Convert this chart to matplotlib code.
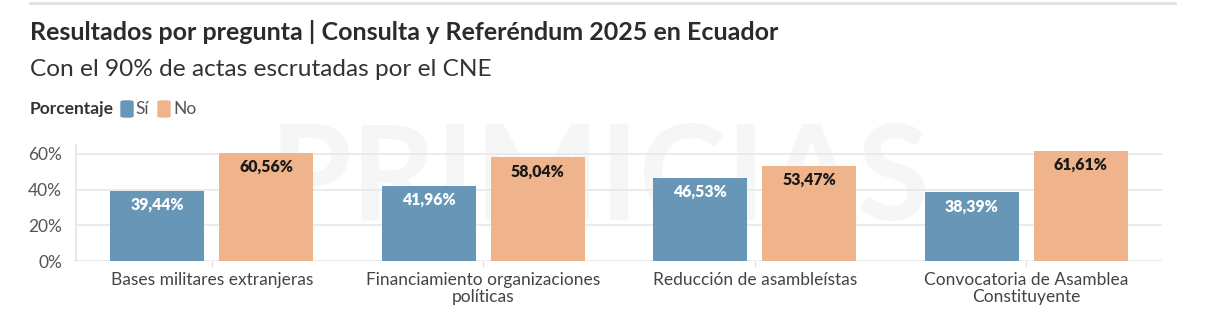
import matplotlib
matplotlib.use("Agg")
import matplotlib.pyplot as plt
import numpy as np
from matplotlib.patches import FancyBboxPatch

categories = ["Bases militares extranjeras", "Financiamiento organizaciones\npolíticas",
              "Reducción de asambleístas", "Convocatoria de Asamblea\nConstituyente"]
si_values = [39.44, 41.96, 46.53, 38.39]
no_values = [60.56, 58.04, 53.47, 61.61]
si_labels = ["39,44%", "41,96%", "46,53%", "38,39%"]
no_labels = ["60,56%", "58,04%", "53,47%", "61,61%"]
yticks = [0, 20, 40, 60]
ytick_labels = ["0%", "20%", "40%", "60%"]

BLUE = "#6796b7"
ORANGE = "#efb48b"
FONT = "Lato"

W, H = 1212, 333
fig = plt.figure(figsize=(W / 100, H / 100), dpi=100)
fig.patch.set_facecolor("white")

def fx(px): return px / W
def fy(py): return 1 - py / H

ax = fig.add_axes([fx(76), fy(261), fx(1162) - fx(76), fy(145) - fy(261)])
ax.set_xlim(-0.5, 3.5)
ax.set_ylim(0, 65)

# watermark behind bars
ax.text(fx(600), fy(182), "PRIMICIAS", transform=fig.transFigure, ha="center", va="center",
        fontsize=95, fontweight="bold", family=FONT, color="#f6f6f6", zorder=1)

x = np.arange(len(categories))
bw = 0.346
off = 0.2
ax.bar(x - off, si_values, bw, color=BLUE, zorder=3)
ax.bar(x + off, no_values, bw, color=ORANGE, zorder=3)

for xi, v, lab in zip(x, si_values, si_labels):
    ax.annotate(lab, (xi - off, v), xytext=(0, -10), textcoords="offset points",
                ha="center", va="center", color="white", fontsize=11.4,
                fontweight="heavy", family=FONT, zorder=4)
for xi, v, lab in zip(x, no_values, no_labels):
    ax.annotate(lab, (xi + off, v), xytext=(0, -10), textcoords="offset points",
                ha="center", va="center", color="#1a1a1a", fontsize=11.4,
                fontweight="heavy", family=FONT, zorder=4)

ax.set_yticks(yticks)
ax.set_yticklabels(ytick_labels, family=FONT, fontsize=12.5, color="#555555")
ax.set_xticks(x)
ax.set_xticklabels(categories, family=FONT, fontsize=12.5, color="#444444",
                   linespacing=1.1)
ax.tick_params(axis="y", length=0, pad=10)
ax.tick_params(axis="x", length=4, color="#dddddd", pad=4)
ax.grid(axis="y", color="#e8e8e8", linewidth=1.2, zorder=0)
for s in ["top", "right", "bottom"]:
    ax.spines[s].set_visible(False)
ax.spines["left"].set_color("#e4e4e4")
ax.spines["left"].set_linewidth(1.2)

# top separator
fig.add_artist(plt.Line2D([fx(30), fx(1175)], [fy(3), fy(3)], color="#e0e0e0", linewidth=2))

fig.text(fx(30), fy(32), "Resultados por pregunta | Consulta y Referéndum 2025 en Ecuador",
         ha="left", va="center", fontsize=18.0, fontweight="bold", family=FONT, color="#2b2b2b")
fig.text(fx(30), fy(70), "Con el 90% de actas escrutadas por el CNE",
         ha="left", va="center", fontsize=17.6, family=FONT, color="#333333")

fig.text(fx(30), fy(109), "Porcentaje", ha="left", va="center", fontsize=12.5,
         fontweight="bold", family=FONT, color="#333333")
fig.add_artist(FancyBboxPatch((fx(121), fy(117)), fx(12), fy(101) - fy(117),
                              boxstyle="round,pad=0,rounding_size=0.003",
                              transform=fig.transFigure, color=BLUE))
fig.text(fx(135), fy(109), "Sí", ha="left", va="center", fontsize=12.5, family=FONT, color="#555555")
fig.add_artist(FancyBboxPatch((fx(158), fy(117)), fx(12), fy(101) - fy(117),
                              boxstyle="round,pad=0,rounding_size=0.003",
                              transform=fig.transFigure, color=ORANGE))
fig.text(fx(173), fy(109), "No", ha="left", va="center", fontsize=12.5, family=FONT, color="#555555")

fig.savefig("out.png", dpi=100, facecolor="white")
